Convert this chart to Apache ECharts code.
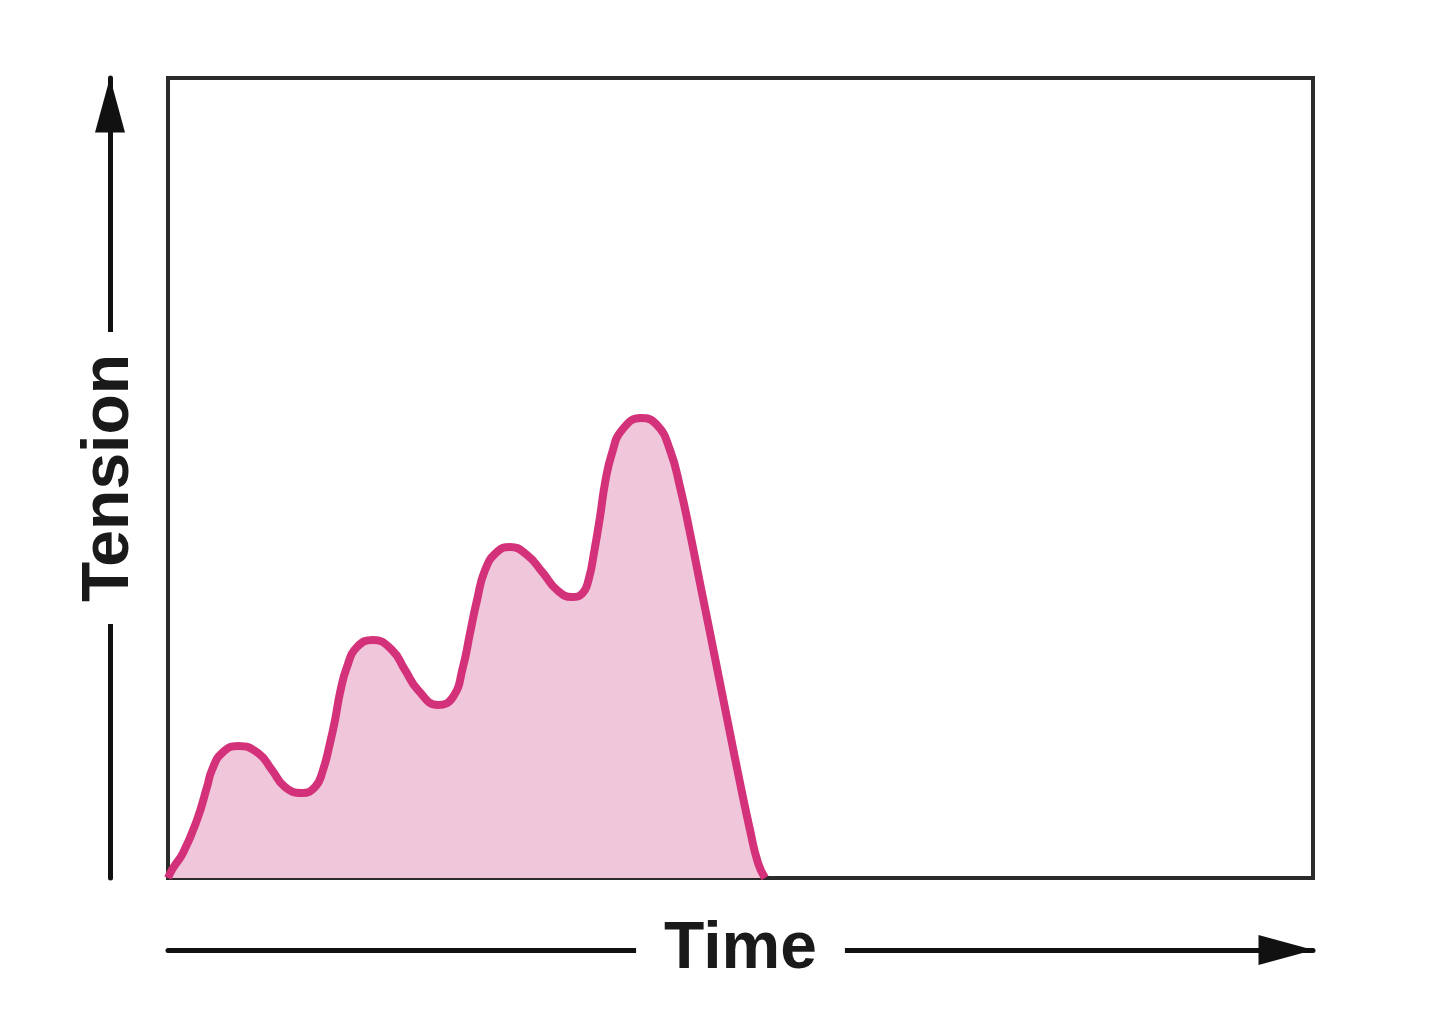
<!DOCTYPE html>
<html>
<head>
<meta charset="utf-8">
<script src="https://cdn.jsdelivr.net/npm/echarts@6/dist/echarts.min.js"></script>
<style>
html,body{margin:0;padding:0;background:#fff;}
#chart{width:1440px;height:1016px;}
</style>
</head>
<body>
<div id="chart"></div>
<script>
// Data (time and tension in arbitrary units, 0-100 scale)
const time    = [0.00, 0.44, 1.31, 2.53, 3.41, 3.84, 4.72, 6.11, 7.86, 9.08, 10.22, 11.70, 12.84, 13.54, 14.15,
                 14.59, 15.02, 15.63, 16.51, 17.90, 19.56, 20.70, 21.83, 23.58, 24.89, 25.76, 26.38, 26.99, 27.69,
                 28.73, 29.87, 31.35, 32.75, 33.97, 35.28, 36.20, 36.75, 37.20, 37.73, 38.17, 38.78, 39.65, 41.31, 42.71,
                 43.84, 44.72, 45.59, 46.46, 47.34, 48.21, 49.08, 49.96, 50.83, 51.53, 52.14];
const tension = [0.00, 1.25, 3.13, 7.25, 11.38, 13.50, 15.63, 16.50, 15.63, 13.50, 11.38, 10.63, 11.38, 13.50, 16.88,
                 19.75, 23.13, 26.38, 28.88, 29.75, 28.50, 26.00, 23.50, 21.63, 22.63, 26.38, 30.63, 34.75, 38.50,
                 40.75, 41.38, 40.38, 38.13, 36.00, 35.13, 35.60, 37.40, 40.60, 45.13, 49.38, 53.13, 56.00, 57.50, 56.63,
                 53.50, 48.88, 43.13, 36.88, 30.63, 24.38, 18.13, 11.88, 6.00, 1.88, 0.00];
const xLabel = 'Time';
const yLabel = 'Tension';

const seriesData = time.map((t, i) => [t, tension[i]]);

const chart = echarts.init(document.getElementById('chart'), null, {renderer: 'canvas'});
const nameFont = {
  fontFamily: 'Liberation Sans, Arial, sans-serif',
  fontWeight: 'bold',
  fontSize: 66,
  color: '#1a1a1a',
  backgroundColor: '#fff',
  align: 'center',
  verticalAlign: 'middle'
};
const arrowLine = {
  show: true, onZero: false,
  lineStyle: {color: '#111', width: 5},
  symbol: ['none', 'triangle'], symbolSize: [30, 55], symbolOffset: [0, -27]
};
const hidden = {axisTick: {show: false}, axisLabel: {show: false}, splitLine: {show: false}};
chart.setOption({
  animation: false,
  backgroundColor: '#fff',
  grid: {
    left: 168, right: 127, top: 78, bottom: 138,
    show: true, borderColor: '#2b2b2b', borderWidth: 4, backgroundColor: 'transparent'
  },
  xAxis: [
    Object.assign({type: 'value', min: 0, max: 100, position: 'bottom', offset: 72, z: 0,
      axisLine: arrowLine}, hidden),
    Object.assign({type: 'value', min: 0, max: 100, position: 'bottom', offset: 72, z: 10,
      name: xLabel, nameLocation: 'middle', nameGap: 0,
      nameTextStyle: Object.assign({}, nameFont, {padding: [0, 28, 0, 28]}),
      axisLine: {show: false}}, hidden)
  ],
  yAxis: [
    Object.assign({type: 'value', min: 0, max: 100, position: 'left', offset: 58, z: 0,
      axisLine: arrowLine}, hidden),
    Object.assign({type: 'value', min: 0, max: 100, position: 'left', offset: 58, z: 10,
      name: yLabel, nameLocation: 'middle', nameGap: 0,
      nameTextStyle: Object.assign({}, nameFont, {padding: [0, 22, 0, 22]}),
      axisLine: {show: false}}, hidden)
  ],
  series: [{
    type: 'line',
    xAxisIndex: 0, yAxisIndex: 0,
    data: seriesData,
    smooth: 0.5,
    showSymbol: false,
    lineStyle: {color: '#d3317a', width: 8, join: 'round', cap: 'butt'},
    areaStyle: {color: '#efc6da', opacity: 1},
    z: 1
  }]
});
</script>
</body>
</html>
